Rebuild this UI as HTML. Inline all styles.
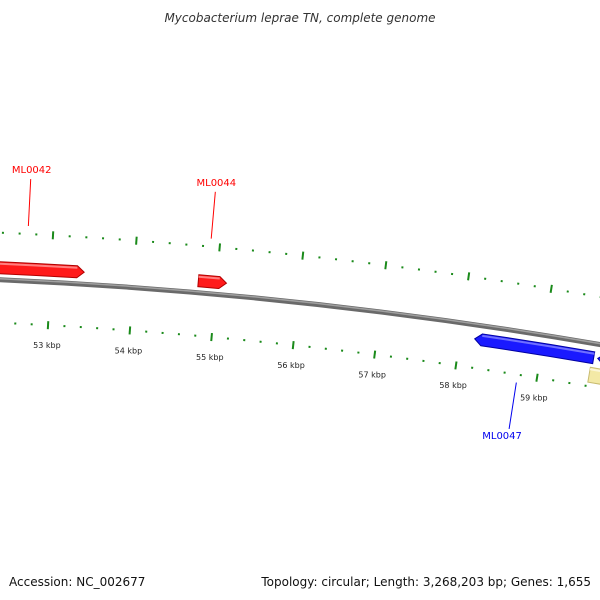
<!DOCTYPE html>
<html><head><meta charset="utf-8"><style>
body{margin:0;background:#fff}
svg{display:block}
text{font-family:"DejaVu Sans","Liberation Sans",sans-serif}
</style></head><body>
<svg id="c" width="600" height="600" viewBox="0 0 600 600">
<text x="300" y="22" text-anchor="middle" font-size="12" font-style="italic" fill="#333">Mycobacterium leprae TN, complete genome</text>
<g id="plot"></g>
<text x="9" y="586" font-size="12" fill="#111">Accession: NC_002677</text>
<text x="591" y="586" text-anchor="end" font-size="12" fill="#111">Topology: circular; Length: 3,268,203 bp; Genes: 1,655</text>
</svg>
<script>
const tickStart = 52000;
const tickEnd = 61000;
const majorStep = 1000;
const minorStep = 200;
const featureNames = ["ML0042","ML0044","ML0047","ML0048","ML0049"];
const featureStarts = [50500,54780,58180,59690,59620];
const featureEnds = [53400,55120,59640,61500,61500];
const featureStrands = [1,1,-1,-1,0];
const featureColors = ["red","red","blue","blue","yellow"];
const labelled = [true,true,true,false,false];
const labelBp = [52700,54890,58760,0,0];

const NS="http://www.w3.org/2000/svg";
const g=document.getElementById('plot');
const cx=-213, cy=5058, R=4740, k=82/4740, a0=0.0551;
const RB=R+44;
function ang(bp){return a0+(bp-53000)/1000*k;}
function pos(bp,r){const a=ang(bp);return [cx+r*Math.sin(a),cy-r*Math.cos(a)];}
function mk(t,at){const e=document.createElementNS(NS,t);for(const q in at)e.setAttribute(q,at[q]);g.appendChild(e);return e;}
function arc(b1,b2,r){const p=pos(b1,r),q=pos(b2,r);return `${p[0]},${p[1]} A${r},${r} 0 0 1 ${q[0]},${q[1]}`;}
let bb=mk('path',{d:'M'+arc(51000,62000,RB-1),fill:'none',stroke:'#6a6a6a','stroke-width':5});


let bb2=mk('path',{d:'M'+arc(51000,62000,RB),fill:'none',stroke:'#a0a0a0','stroke-width':1.5});


[R,R+90].forEach((rr,ri)=>{
 for(let bp=tickStart;bp<=tickEnd;bp+=minorStep){
  const major=bp%majorStep===0;
  const p=pos(bp,rr-(major?4:1)),q=pos(bp,rr+(major?4:1));
  const l=mk('line',{x1:p[0],y1:p[1],x2:q[0],y2:q[1],stroke:'#1a8a1a','stroke-width':2});
  
  
  if(major&&ri===0){const t=pos(bp,R-20);
   const tx=mk('text',{x:t[0],y:t[1]+3,'text-anchor':'middle','font-size':8,fill:'#222'});
   tx.textContent=(bp/1000)+' kbp';
   
   }
 }
});
const cols={red:['#ff1a1a','#b00000','#ff8080'],blue:['#1a1aff','#0000a0','#7070ff'],yellow:['#f3e9a6','#c8bb70','#fbf6d8']};
featureNames.forEach((n,i)=>{
 let r1,r2;const s=featureStrands[i];
 if(s===1){r1=RB+5;r2=RB+17;}else if(s===-1){r1=RB-21;r2=RB-9;}else{r1=RB-40;r2=RB-25;}
 const rm=(r1+r2)/2, ah=7/R*1000/k;
 let b1=featureStarts[i],b2=featureEnds[i],d;
 const p=(b,r)=>pos(b,r).join(',');
 if(s===1){d=`M${p(b1,r2)} A${r2},${r2} 0 0 1 ${p(b2-ah,r2)} L${p(b2,rm)} L${p(b2-ah,r1)} A${r1},${r1} 0 0 0 ${p(b1,r1)} Z`;}
 else if(s===-1){d=`M${p(b1,rm)} L${p(b1+ah,r2)} A${r2},${r2} 0 0 1 ${p(b2,r2)} L${p(b2,r1)} A${r1},${r1} 0 0 0 ${p(b1+ah,r1)} Z`;}
 else{d=`M${p(b1,r2)} A${r2},${r2} 0 0 1 ${p(b2,r2)} L${p(b2,r1)} A${r1},${r1} 0 0 0 ${p(b1,r1)} Z`;}
 const c=cols[featureColors[i]];
 const e=mk('path',{d:d,fill:c[0],stroke:c[1],'stroke-width':1});
 
 
 const hl=mk('path',{d:'M'+arc(b1+(s===-1?ah:0),b2-(s===1?ah:0),r2-2),fill:'none',stroke:c[2],'stroke-width':2});
 
 
 if(labelled[i]){
  const mid=labelBp[i];
  const lr1=s===1?R+98:R-8, lr2=s===1?R+145:R-55;
  const a=pos(mid,lr1),b=pos(mid,lr2);
  const col=s===1?'#ff0000':'#0000ee';
  const ln=mk('line',{x1:a[0],y1:a[1],x2:b[0],y2:b[1],stroke:col,'stroke-width':1});
  
  
  const t=mk('text',{x:b[0]+(s===1?1:-7),y:s===1?b[1]-6:b[1]+10,'text-anchor':'middle','font-size':10,fill:col});
  t.textContent=n;
  
  
 }
});
</script>
</body></html>
